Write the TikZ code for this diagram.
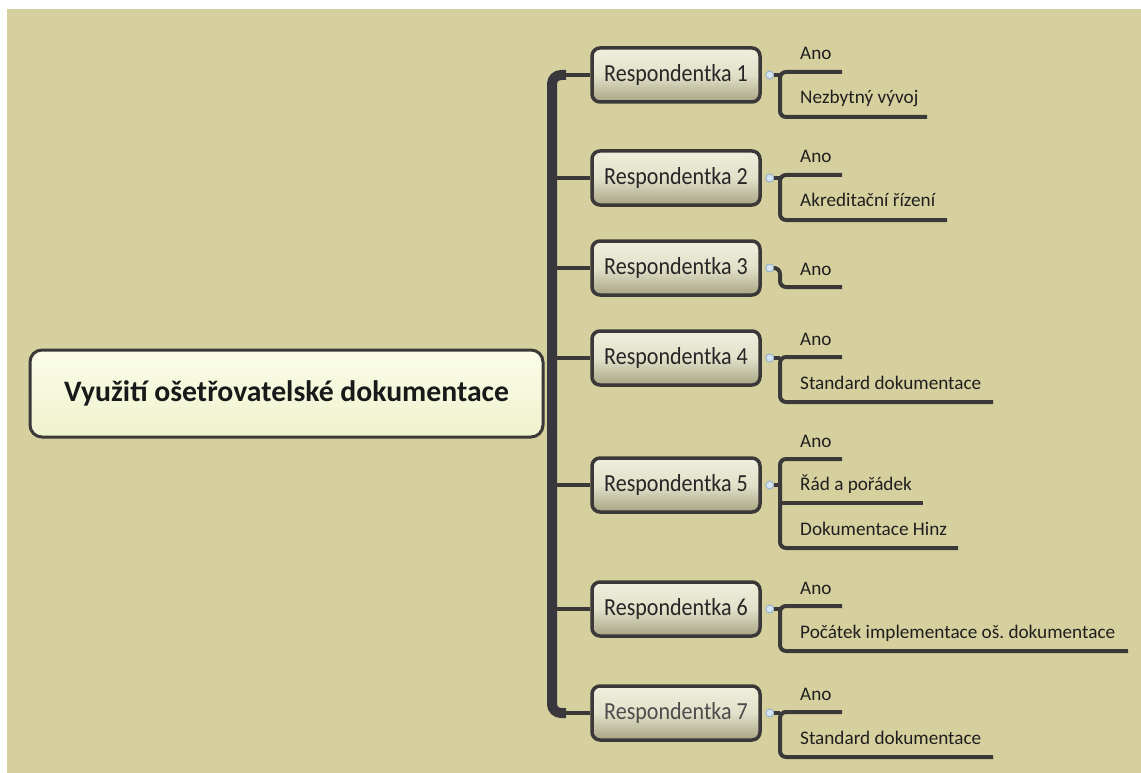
\documentclass[tikz,border=0pt]{standalone}
\usepackage{fontspec}
\setmainfont{Carlito}
\newfontfamily\respfont[FakeStretch=0.9]{Carlito}
\begin{document}
\frenchspacing
\definecolor{paper}{RGB}{214,208,158}
\definecolor{ink}{RGB}{58,56,56}
\definecolor{spinec}{RGB}{56,54,62}
\definecolor{boxtop}{RGB}{240,239,220}
\definecolor{boxbot}{RGB}{168,165,130}
\definecolor{roottop}{RGB}{251,253,232}
\definecolor{rootbot}{RGB}{238,242,205}
\definecolor{dotfill}{RGB}{214,228,240}
\definecolor{dotline}{RGB}{150,178,205}
\begin{tikzpicture}[x=1pt,y=-1pt,
  root/.style={draw=ink, line width=3pt, rounded corners=12pt,
    top color=roottop, bottom color=rootbot,
    minimum width=513pt, minimum height=87pt, inner sep=0pt,
    font=\fontsize{29.7}{32}\selectfont\bfseries, text=black!90},
  resp/.style={draw=ink, line width=3.5pt, rounded corners=8pt,
    top color=boxtop, bottom color=boxbot, middle color=boxtop!80!boxbot,
    minimum width=168pt, minimum height=54pt, inner sep=0pt,
    font=\respfont\fontsize{24.5}{26}\selectfont, text=black!85},
  knob/.style={circle, draw=dotline, fill=dotfill, line width=1pt,
    minimum size=8pt, inner sep=0pt},
  leaf/.style={anchor=base west, inner sep=0pt,
    font=\fontsize{19.2}{21}\selectfont, text=black!88},
  spine/.style={draw=spinec, line width=10pt, rounded corners=9pt},
  branch/.style={draw=ink, line width=4pt},
  twig/.style={draw=ink, line width=4pt, rounded corners=6pt, line cap=butt},
]
\useasboundingbox (0,0) rectangle (1141,773);
\fill[white] (0,0) rectangle (1141,773);
\fill[paper] (7,9) rectangle (1141,773);

% main trunk joining the seven answer boxes
\coordinate (ttop) at (552,75);
\coordinate (tbot) at (552,713);
\draw[spine] (566,75) -- (ttop) -- (tbot) -- (566,713);

% central topic
\node[root] (root) at (286.5,393.5) {Využití ošetřovatelské dokumentace};

% respondent boxes
\node[resp] (r1) at (676,75)  {Respondentka 1};
\node[resp] (r2) at (676,178) {Respondentka 2};
\node[resp] (r3) at (676,268) {Respondentka 3};
\node[resp] (r4) at (676,358) {Respondentka 4};
\node[resp] (r5) at (676,485) {Respondentka 5};
\node[resp] (r6) at (676,609) {Respondentka 6};
\node[resp, text=black!70] (r7) at (676,713) {Respondentka 7};

% branches from trunk to boxes
\foreach \r in {1,...,7}{
  \draw[branch] (r\r.west) -- (r\r.west -| ttop);
}

% collapse knobs
\foreach \r in {1,...,7}{
  \node[knob] (k\r) at ([xshift=8pt]r\r.east) {};
}

% --- Respondentka 1
\node[leaf] (a11) at (800,60)  {Ano};
\node[leaf] (a12) at (800,104) {Nezbytný vývoj};
\coordinate (e11) at (842,72);
\coordinate (e12) at (927,117);
\draw[twig] (e11) -- (780,72) -- (780,117) -- (e12);
\draw[twig] (k1.east) -- (k1.east -| 780,0);

% --- Respondentka 2
\node[leaf] (a21) at (800,163) {Ano};
\node[leaf] (a22) at (800,207) {Akreditační řízení};
\coordinate (e21) at (842,175);
\coordinate (e22) at (947,220);
\draw[twig] (e21) -- (780,175) -- (780,220) -- (e22);
\draw[twig] (k2.east) -- (k2.east -| 780,0);

% --- Respondentka 3
\node[leaf] (a31) at (800,275) {Ano};
\coordinate (e31) at (842,287);
\draw[twig] (k3.east) -- (780,268) -- (780,287) -- (e31);

% --- Respondentka 4
\node[leaf] (a41) at (800,345) {Ano};
\node[leaf] (a42) at (800,389) {Standard dokumentace};
\coordinate (e41) at (842,357);
\coordinate (e42) at (993,402);
\draw[twig] (e41) -- (780,357) -- (780,402) -- (e42);
\draw[twig] (k4.east) -- (k4.east -| 780,0);

% --- Respondentka 5
\node[leaf] (a51) at (800,447) {Ano};
\node[leaf] (a52) at (800,490) {Řád a pořádek};
\node[leaf] (a53) at (800,535) {Dokumentace Hinz};
\coordinate (e51) at (842,459);
\coordinate (e52) at (923,503);
\coordinate (e53) at (958,548);
\draw[twig] (e51) -- (780,459) -- (780,548) -- (e53);
\draw[twig] (780,503) -- (e52);
\draw[twig] (k5.east) -- (k5.east -| 780,0);

% --- Respondentka 6
\node[leaf] (a61) at (800,594) {Ano};
\node[leaf] (a62) at (800,638) {Počátek implementace oš. dokumentace};
\coordinate (e61) at (842,606);
\coordinate (e62) at (1128,651);
\draw[twig] (e61) -- (780,606) -- (780,651) -- (e62);
\draw[twig] (k6.east) -- (k6.east -| 780,0);

% --- Respondentka 7
\node[leaf] (a71) at (800,700) {Ano};
\node[leaf] (a72) at (800,744) {Standard dokumentace};
\coordinate (e71) at (842,712);
\coordinate (e72) at (993,757);
\draw[twig] (e71) -- (780,712) -- (780,757) -- (e72);
\draw[twig] (k7.east) -- (k7.east -| 780,0);
\end{tikzpicture}
\end{document}
